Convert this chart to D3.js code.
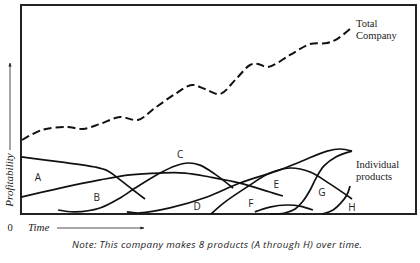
<!DOCTYPE html>
<html>
<head>
<meta charset="utf-8">
<script src="https://cdn.jsdelivr.net/npm/d3@7"></script>
<style>
  body { margin: 0; background: #fff; }
  svg { display: block; }
</style>
</head>
<body>
<div id="chart"></div>
<script>
/* Data: time and profitability on a 0-100 scale */
const totalTime   = [0.3, 5.3, 11.6, 15.7, 20.0, 25.1, 29.6, 33.9, 39.0, 43.3, 46.6, 50.4, 54.2, 58.0, 60.0, 62.5, 68.1, 73.2, 77.5, 80.0, 83.3]
const totalProfit = [35.4, 40.2, 41.6, 40.7, 43.1, 46.4, 45.0, 50.7, 57.4, 61.7, 59.8, 57.4, 64.1, 71.3, 71.8, 70.3, 76.1, 81.3, 81.8, 83.7, 88.5]

const productA = {t: [0, 9.9, 18.7, 22.0, 25.1, 28.4, 31.4], p: [27.3, 24.9, 22.5, 20.6, 16.3, 11.5, 7.2]}
const productB = {t: [0, 9.9, 20.0, 27.6, 35.2, 41.5, 47.8, 55.4, 63.0, 66.3], p: [8.1, 12.4, 16.3, 18.7, 19.6, 19.6, 17.7, 14.8, 10.5, 8.6]}
const productC = {t: [9.4, 13.7, 20.0, 25.1, 28.9, 35.2, 39.0, 42.3, 45.3, 49.1, 53.7], p: [1.9, 1.0, 2.9, 7.7, 12.4, 19.6, 23.0, 24.4, 23.4, 19.1, 12.4]}
const productD = {t: [26.8, 30.1, 37.7, 47.1, 55.4, 65.6, 70.6, 77.5, 80.8, 83.8], p: [1.0, 0.5, 2.9, 8.1, 14.8, 21.1, 24.9, 30.1, 31.1, 30.1]}
const productE = {t: [48.1, 51.6, 57.2, 63.0, 68.1, 73.2, 78.2, 83.8], p: [0, 5.7, 12.9, 19.6, 22.0, 20.1, 14.4, 7.2]}
const productF = {t: [59.2, 63.0, 67.3, 70.6, 73.9], p: [1.0, 3.3, 4.3, 3.8, 1.9]}
const productG = {t: [63.0, 66.8, 69.4, 71.4, 73.2, 74.7, 76.7, 79.7, 83.8], p: [0, 0.5, 2.4, 6.2, 11.5, 17.2, 23.0, 27.3, 30.1]}
const productH = {t: [76.2, 79.0, 81.0, 82.5, 83.3], p: [0, 1.9, 5.3, 9.1, 13.4]}
const products = [productA, productB, productC, productD, productE, productF, productG, productH]

const productLabels = ["A", "B", "C", "D", "E", "F", "G", "H"]
const labelTime     = [4.3, 19.2, 40.3, 44.6, 64.6, 58.2, 76.2, 83.8]
const labelProfit   = [17.7, 8.1, 28.7, 3.8, 14.4, 5.3, 10.5, 3.3]

/* Layout */
const WIDTH = 420
const HEIGHT = 263
const PLOT = {"LEFT": 21, "RIGHT": 416, "TOP": 5, "BOTTOM": 214}
const SERIF = "'Liberation Serif', 'Times New Roman', serif"
const SANS = "'Open Sans', 'Liberation Sans', sans-serif"

const svg = d3.select("#chart")
              .append("svg")
              .attr("width", WIDTH)
              .attr("height", HEIGHT);

const x = d3.scaleLinear().domain([0, 100]).range([PLOT.LEFT, PLOT.RIGHT]);
const y = d3.scaleLinear().domain([0, 100]).range([PLOT.BOTTOM, PLOT.TOP]);

const defs = svg.append("defs");
defs.append("marker")
    .attr("id", "arrow")
    .attr("viewBox", "0 0 10 10")
    .attr("refX", 9)
    .attr("refY", 5)
    .attr("markerWidth", 5)
    .attr("markerHeight", 5)
    .attr("orient", "auto")
    .append("path")
    .attr("d", "M0,1 L10,5 L0,9 z")
    .attr("fill", "#222");

/* Frame */
svg.append("rect")
   .attr("x", PLOT.LEFT)
   .attr("y", PLOT.TOP)
   .attr("width", PLOT.RIGHT - PLOT.LEFT)
   .attr("height", PLOT.BOTTOM - PLOT.TOP)
   .attr("fill", "none")
   .attr("stroke", "#222")
   .attr("stroke-width", 2);

const line = d3.line()
               .x((d) => x(d[0]))
               .y((d) => y(d[1]))
               .curve(d3.curveCatmullRom.alpha(0.5));

/* Total company */
svg.append("path")
   .attr("d", line(d3.zip(totalTime, totalProfit)))
   .attr("fill", "none")
   .attr("stroke", "#111")
   .attr("stroke-width", 2)
   .attr("stroke-dasharray", "8,4");

/* Individual products */
svg.append("g")
   .selectAll("path")
   .data(products)
   .enter()
   .append("path")
   .attr("d", (d) => line(d3.zip(d.t, d.p)))
   .attr("fill", "none")
   .attr("stroke", "#111")
   .attr("stroke-width", 1.7);

svg.append("g")
   .selectAll("text")
   .data(productLabels)
   .enter()
   .append("text")
   .attr("x", (d, i) => x(labelTime[i]))
   .attr("y", (d, i) => y(labelProfit[i]))
   .attr("text-anchor", "middle")
   .attr("dominant-baseline", "central")
   .attr("font-family", SANS)
   .attr("font-size", 10)
   .attr("fill", "#222")
   .text((d) => d);

/* Annotations on the right */
const annotate = (lines, tx, ty) => {
  const t = svg.append("text")
               .attr("x", tx)
               .attr("y", ty)
               .attr("font-family", SERIF)
               .attr("font-size", 10.5)
               .attr("fill", "#222");
  lines.forEach((s, i) => {
    t.append("tspan").attr("x", tx).attr("dy", i === 0 ? 0 : 11.5).text(s);
  });
}
annotate(["Total", "Company"], 356, 27);
annotate(["Individual", "products"], 356, 168);

/* Axis arrows and titles */
svg.append("line")
   .attr("x1", 10).attr("y1", 150)
   .attr("x2", 10).attr("y2", 63)
   .attr("stroke", "#222")
   .attr("stroke-width", 0.8)
   .attr("marker-end", "url(#arrow)");
svg.append("text")
   .attr("transform", "translate(13,180) rotate(-90)")
   .attr("text-anchor", "middle")
   .attr("font-family", SERIF)
   .attr("font-style", "italic")
   .attr("font-size", 11)
   .attr("fill", "#222")
   .text("Profitability");

svg.append("text")
   .attr("x", 10).attr("y", 231)
   .attr("text-anchor", "middle")
   .attr("font-family", SERIF)
   .attr("font-size", 10.5)
   .attr("fill", "#222")
   .text("0");
svg.append("text")
   .attr("x", 28).attr("y", 231)
   .attr("font-family", SERIF)
   .attr("font-style", "italic")
   .attr("font-size", 11)
   .attr("fill", "#222")
   .text("Time");
svg.append("line")
   .attr("x1", 57).attr("y1", 228)
   .attr("x2", 144).attr("y2", 228)
   .attr("stroke", "#222")
   .attr("stroke-width", 0.8)
   .attr("marker-end", "url(#arrow)");

/* Note */
svg.append("text")
   .attr("x", 72).attr("y", 248)
   .attr("font-family", SANS)
   .attr("font-style", "italic")
   .attr("font-size", 9.8)
   .attr("textLength", 290)
   .attr("lengthAdjust", "spacing")
   .attr("fill", "#222")
   .text("Note: This company makes 8 products (A through H) over time.");
</script>
</body>
</html>
